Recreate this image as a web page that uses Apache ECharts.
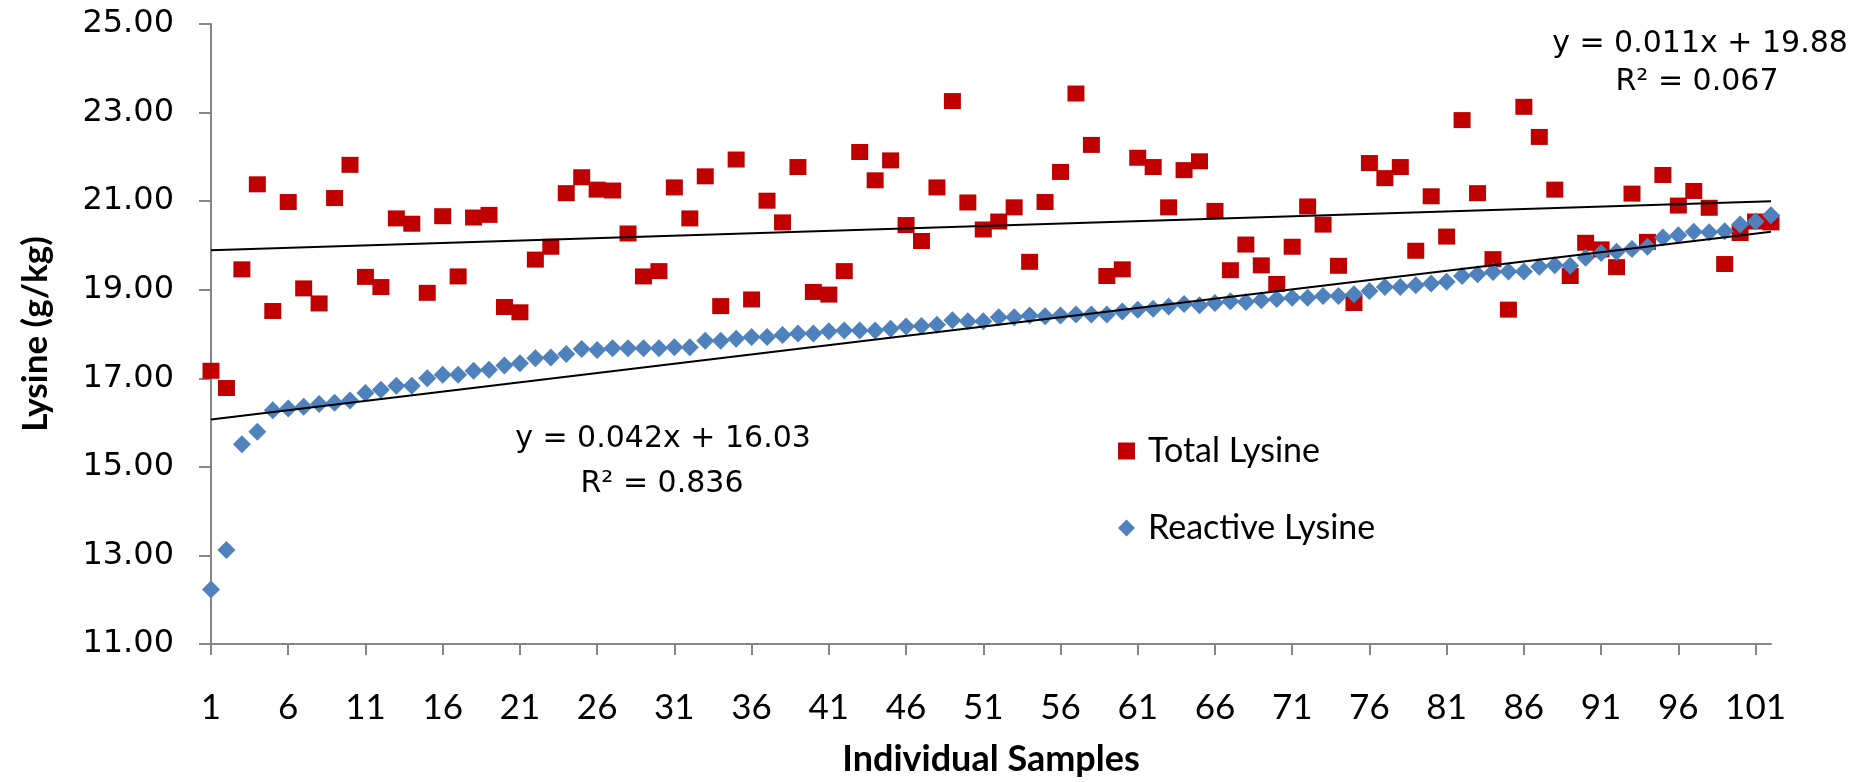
<!DOCTYPE html>
<html>
<head>
<meta charset="utf-8">
<script src="https://cdn.jsdelivr.net/npm/echarts@6/dist/echarts.min.js"></script>
<style>
html,body{margin:0;padding:0;background:#fff;}
#chart{width:1866px;height:782px;}
</style>
</head>
<body>
<div id="chart"></div>
<script>
// ---- data ----
const samples = ['1','2','3','4','5','6','7','8','9','10','11','12','13','14','15','16','17','18','19','20',
  '21','22','23','24','25','26','27','28','29','30','31','32','33','34','35','36','37','38','39','40',
  '41','42','43','44','45','46','47','48','49','50','51','52','53','54','55','56','57','58','59','60',
  '61','62','63','64','65','66','67','68','69','70','71','72','73','74','75','76','77','78','79','80',
  '81','82','83','84','85','86','87','88','89','90','91','92','93','94','95','96','97','98','99','100',
  '101','102'];

const totalLysine = [17.17,16.78,19.46,21.38,18.52,20.98,19.03,18.69,21.07,21.82,
  19.29,19.06,20.61,20.49,18.93,20.66,19.30,20.63,20.69,18.61,
  18.49,19.68,19.97,21.18,21.54,21.26,21.24,20.27,19.30,19.42,
  21.31,20.61,21.56,18.63,21.94,18.78,21.01,20.52,21.77,18.95,
  18.89,19.42,22.11,21.47,21.92,20.46,20.10,21.31,23.26,20.97,
  20.36,20.54,20.86,19.63,20.98,21.66,23.43,22.27,19.31,19.46,
  21.98,21.77,20.86,21.70,21.90,20.78,19.44,20.02,19.55,19.13,
  19.97,20.88,20.47,19.54,18.70,21.86,21.52,21.77,19.88,21.11,
  20.20,22.83,21.18,19.69,18.55,23.13,22.45,21.26,19.31,20.06,
  19.91,19.51,21.17,20.08,21.59,20.90,21.23,20.85,19.58,20.28,
  20.54,20.52];

const reactiveLysine = [12.23,13.12,15.51,15.79,16.28,16.32,16.36,16.42,16.45,16.50,
  16.67,16.74,16.83,16.83,17.00,17.08,17.08,17.17,17.19,17.29,
  17.34,17.45,17.47,17.55,17.66,17.64,17.68,17.68,17.68,17.68,
  17.70,17.70,17.85,17.85,17.89,17.93,17.93,17.98,18.01,18.01,
  18.06,18.08,18.08,18.08,18.12,18.17,18.18,18.21,18.31,18.29,
  18.29,18.38,18.38,18.42,18.40,18.42,18.44,18.44,18.44,18.51,
  18.55,18.57,18.62,18.68,18.65,18.70,18.74,18.72,18.76,18.79,
  18.82,18.82,18.86,18.86,18.90,18.97,19.06,19.06,19.10,19.14,
  19.18,19.31,19.35,19.40,19.41,19.41,19.52,19.55,19.54,19.72,
  19.83,19.86,19.92,19.97,20.18,20.23,20.31,20.30,20.32,20.47,
  20.54,20.68];

// trendline end points [sample, value]
const totalTrend = [['1', 19.89], ['102', 21.00]];
const reactiveTrend = [['1', 16.07], ['102', 20.31]];

const totalEq = ['y = 0.011x + 19.88', 'R\u00B2 = 0.067'];
const reactiveEq = ['y = 0.042x + 16.03', 'R\u00B2 = 0.836'];

const yMin = 11, yMax = 25, yStep = 2;

// ---- chart ----
const chart = echarts.init(document.getElementById('chart'), null, {renderer: 'canvas'});
const axisColor = '#868686';
const eqFont = {fontFamily: 'DejaVu Sans', fontSize: 30, fill: '#000', textAlign: 'center', textVerticalAlign: 'middle'};

chart.setOption({
  backgroundColor: '#ffffff',
  animation: false,
  grid: {left: 211, right: 95, top: 24, bottom: 125, containLabel: false},
  xAxis: {
    type: 'category',
    data: samples,
    boundaryGap: false,
    name: 'Individual Samples',
    nameLocation: 'middle',
    nameGap: 97,
    nameTextStyle: {fontFamily: 'Lato', fontWeight: 'bold', fontSize: 36, color: '#000'},
    axisLine: {lineStyle: {color: axisColor, width: 2}},
    axisTick: {show: true, interval: 4, length: 11, lineStyle: {color: axisColor, width: 2}},
    axisLabel: {interval: 4, margin: 46, fontFamily: 'Lato', fontSize: 35, color: '#000'},
    splitLine: {show: false}
  },
  yAxis: {
    type: 'value',
    min: yMin, max: yMax, interval: yStep,
    name: 'Lysine (g/kg)',
    nameLocation: 'middle',
    nameRotate: 90,
    nameGap: 158,
    nameTextStyle: {fontFamily: 'Lato', fontWeight: 'bold', fontSize: 35, color: '#000'},
    axisLine: {show: true, lineStyle: {color: axisColor, width: 2}},
    axisTick: {show: true, length: 12, lineStyle: {color: axisColor, width: 2}},
    axisLabel: {margin: 37, fontFamily: 'DejaVu Sans', fontSize: 32, color: '#000',
      formatter: v => v.toFixed(2)},
    splitLine: {show: false}
  },
  legend: {
    data: ['Total Lysine', 'Reactive Lysine'],
    orient: 'vertical',
    left: 1113,
    top: 429,
    itemWidth: 17,
    itemHeight: 17,
    itemGap: 43,
    itemStyle: {opacity: 1},
    textStyle: {fontFamily: 'Lato', fontSize: 34, color: '#000', padding: [0, 0, 0, 8]}
  },
  series: [
    {
      name: 'Total Lysine', type: 'scatter', data: totalLysine,
      symbol: 'rect', symbolSize: [17, 16],
      itemStyle: {color: '#C00000', opacity: 1}, z: 2
    },
    {
      name: 'Reactive Lysine', type: 'scatter', data: reactiveLysine,
      symbol: 'diamond', symbolSize: 18,
      itemStyle: {color: '#4F81BD', opacity: 1}, z: 3
    },
    {
      name: 'Total trend', type: 'line', data: totalTrend, symbol: 'none',
      lineStyle: {color: '#000', width: 2}, z: 4, silent: true
    },
    {
      name: 'Reactive trend', type: 'line', data: reactiveTrend, symbol: 'none',
      lineStyle: {color: '#000', width: 2}, z: 4, silent: true
    }
  ],
  graphic: [
    {type: 'text', x: 1700, y: 44, style: Object.assign({text: totalEq[0]}, eqFont)},
    {type: 'text', x: 1697, y: 82, style: Object.assign({text: totalEq[1]}, eqFont)},
    {type: 'text', x: 663, y: 439, style: Object.assign({text: reactiveEq[0]}, eqFont)},
    {type: 'text', x: 662, y: 484, style: Object.assign({text: reactiveEq[1]}, eqFont)}
  ]
});
</script>
</body>
</html>
